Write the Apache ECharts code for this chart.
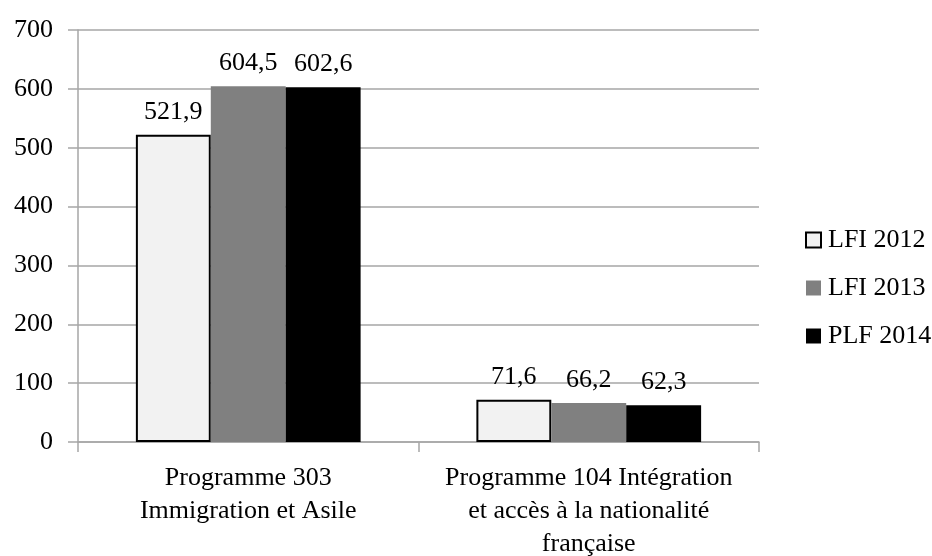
<!DOCTYPE html>
<html>
<head>
<meta charset="utf-8">
<script src="https://cdn.jsdelivr.net/npm/echarts@6/dist/echarts.min.js"></script>
<style>html,body{margin:0;padding:0;background:#fff}#c{width:932px;height:556px}</style>
</head>
<body>
<div id="c"></div>
<script>
const categories = ["Programme 303\nImmigration et Asile", "Programme 104 Intégration\net accès à la nationalité\nfrançaise"];
const seriesNames = ["LFI 2012", "LFI 2013", "PLF 2014"];
const lfi2012 = [521.9, 71.6];
const lfi2013 = [604.5, 66.2];
const plf2014 = [602.6, 62.3];
const yTicks = [0, 100, 200, 300, 400, 500, 600, 700];

const FONT = '"Liberation Serif", "DejaVu Serif", serif';
const colors = ["#f2f2f2", "#808080", "#000000"];
const values = [lfi2012, lfi2013, plf2014];

const chart = echarts.init(document.getElementById('c'));
chart.setOption({
  animation: false,
  backgroundColor: '#ffffff',
  textStyle: { fontFamily: FONT },
  grid: { left: 78, right: 173, top: 30, bottom: 114, containLabel: false, outerBoundsMode: 'none' },
  legend: {
    orient: 'vertical',
    left: 800,
    top: 222,
    itemWidth: 15,
    itemHeight: 15,
    itemGap: 22,
    icon: 'rect',
    data: seriesNames,
    textStyle: { fontFamily: FONT, fontSize: 26, color: '#000', lineHeight: 26, padding: [0, 0, 0, 2] }
  },
  xAxis: {
    type: 'category',
    data: categories,
    axisLine: { show: true, lineStyle: { color: '#a6a6a6', width: 1.5 } },
    axisTick: { show: true, length: 10, alignWithLabel: false, lineStyle: { color: '#a6a6a6', width: 1.5 } },
    axisLabel: { fontFamily: FONT, fontSize: 26, color: '#000', lineHeight: 33, margin: 20, interval: 0 }
  },
  yAxis: {
    type: 'value',
    min: yTicks[0],
    max: yTicks[yTicks.length - 1],
    interval: 100,
    axisLine: { show: true, lineStyle: { color: '#a6a6a6', width: 1.5 } },
    axisTick: { show: true, length: 10, lineStyle: { color: '#a6a6a6', width: 1.5 } },
    axisLabel: { fontFamily: FONT, fontSize: 26, color: '#000', margin: 25 },
    splitLine: { show: true, lineStyle: { color: '#a6a6a6', width: 1.5 } }
  },
  series: seriesNames.map((name, i) => ({
    name: name,
    type: 'bar',
    data: values[i],
    barGap: '0%',
    barCategoryGap: '34%',
    itemStyle: {
      color: colors[i],
      borderColor: i === 0 ? '#000' : colors[i],
      borderWidth: i === 0 ? 2 : 0
    },
    label: {
      show: true,
      position: 'top',
      distance: 10,
      fontFamily: FONT,
      fontSize: 26,
      color: '#000',
      formatter: p => String(p.value).replace('.', ',')
    }
  }))
});
</script>
</body>
</html>
